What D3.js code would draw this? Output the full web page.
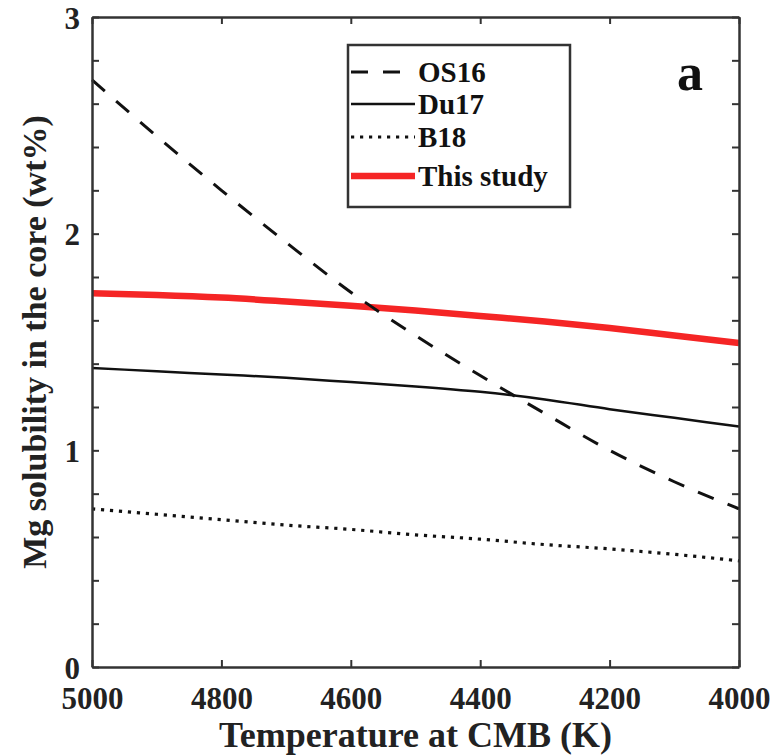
<!DOCTYPE html>
<html>
<head>
<meta charset="utf-8">
<script src="https://cdn.jsdelivr.net/npm/d3@7"></script>
<style>
    body { margin: 0; background: #fff; }
    #chart-area { width: 775px; height: 755px; }
    .axis path, .axis line { stroke: #333; }
    text { font-family: "Liberation Serif", "Times New Roman", Tinos, serif; font-weight: bold; }
    .axis text { fill: #222; }
</style>
</head>
<body>
<div id="chart-area"></div>
<script>
// temperatures at CMB (K)
const temps = [5000, 4900, 4800, 4700, 4600, 4500, 4400, 4300, 4200, 4100, 4000];

// Mg solubility (wt%)
const os16 = [2.71, 2.45, 2.20, 1.96, 1.73, 1.53, 1.345, 1.17, 1.00, 0.855, 0.73];
const du17 = [1.38, 1.365, 1.35, 1.335, 1.315, 1.295, 1.27, 1.235, 1.19, 1.15, 1.11];
const b18 = [0.73, 0.705, 0.68, 0.655, 0.635, 0.61, 0.59, 0.565, 0.545, 0.52, 0.49];
const thisStudy = [1.725, 1.717, 1.705, 1.687, 1.667, 1.645, 1.62, 1.595, 1.565, 1.53, 1.495];

const xTicks = [5000, 4800, 4600, 4400, 4200, 4000];
const yTicks = [0, 0.2, 0.4, 0.6, 0.8, 1, 1.2, 1.4, 1.6, 1.8, 2, 2.2, 2.4, 2.6, 2.8, 3];

const seriesNames = ["OS16", "Du17", "B18", "This study"];

let margin = {top: 17, right: 36, bottom: 88, left: 92};
let width = 775 - margin.left - margin.right;
let height = 755 - margin.top - margin.bottom;

let svg = d3.select("#chart-area").append("svg")
    .attr("width", 775)
    .attr("height", 755)
    .append("g")
    .attr("transform", "translate(" + margin.left + "," + margin.top + ")");

// scales (x runs from hot to cold)
let xScale = d3.scaleLinear().domain([5000, 4000]).range([0, width]);
let yScale = d3.scaleLinear().domain([0, 3]).range([height, 0]);

// line styles
let styles = {
    "OS16": {data: os16, color: "#111", width: 3, dash: "17,15"},
    "Du17": {data: du17, color: "#111", width: 2.5, dash: null},
    "B18": {data: b18, color: "#111", width: 3.2, dash: "3.2,5.8"},
    "This study": {data: thisStudy, color: "#f52525", width: 6.5, dash: null}
};

let line = d3.line()
    .curve(d3.curveMonotoneX)
    .x(d => xScale(d.t))
    .y(d => yScale(d.v));

// draw series (red first so the dashed line sits over it)
["This study", "Du17", "B18", "OS16"].forEach(name => {
    let s = styles[name];
    let pts = temps.map((t, i) => ({t: t, v: s.data[i]}));
    svg.append("path")
        .datum(pts)
        .attr("fill", "none")
        .attr("stroke", s.color)
        .attr("stroke-width", s.width)
        .attr("stroke-dasharray", s.dash)
        .attr("d", line);
});

// axes, ticks pointing inward
svg.append("g")
    .attr("class", "axis axis-x")
    .attr("transform", "translate(0," + height + ")")
    .call(d3.axisBottom(xScale).tickValues(xTicks).tickSizeInner(-7).tickSizeOuter(0).tickPadding(20).tickFormat(d3.format("d")))
    .call(g => g.attr("font-family", null))
    .call(g => g.selectAll("text").style("font-size", "31px"));

svg.append("g")
    .attr("class", "axis axis-y")
    .call(d3.axisLeft(yScale).tickValues(yTicks).tickSizeInner(-7).tickSizeOuter(0).tickPadding(12)
        .tickFormat(d => Number.isInteger(d) ? d : ""))
    .call(g => g.attr("font-family", null))
    .call(g => g.selectAll("text").style("font-size", "31px").attr("dy", "0.36em"));

svg.append("g")
    .attr("class", "axis axis-top")
    .call(d3.axisTop(xScale).tickValues(xTicks).tickSizeInner(-7).tickSizeOuter(0).tickFormat(""));

svg.append("g")
    .attr("class", "axis axis-right")
    .attr("transform", "translate(" + width + ",0)")
    .call(d3.axisRight(yScale).tickValues(yTicks).tickSizeInner(-7).tickSizeOuter(0).tickFormat(""));

svg.selectAll(".axis path").attr("stroke-width", 2.5);
svg.selectAll(".axis line").attr("stroke-width", 2);

// axis labels
svg.append("text")
    .attr("x", width / 2)
    .attr("y", height + 80)
    .attr("text-anchor", "middle")
    .style("font-size", "36px")
    .style("fill", "#222")
    .text("Temperature at CMB (K)");

svg.append("text")
    .attr("transform", "rotate(-90)")
    .attr("x", -height / 2)
    .attr("y", -46)
    .attr("text-anchor", "middle")
    .style("font-size", "34px")
    .style("fill", "#222")
    .text("Mg solubility in the core (wt%)");

// panel letter
svg.append("text")
    .attr("x", 598)
    .attr("y", 73)
    .attr("text-anchor", "middle")
    .style("font-size", "52px")
    .style("fill", "#111")
    .text("a");

// legend
let legend = svg.append("g")
    .attr("transform", "translate(256,28)");

legend.append("rect")
    .attr("width", 222)
    .attr("height", 162)
    .attr("fill", "#fff")
    .attr("stroke", "#333")
    .attr("stroke-width", 2.5);

let legendY = [27, 59, 92, 131];

seriesNames.forEach((name, i) => {
    let s = styles[name];
    legend.append("line")
        .attr("x1", 3)
        .attr("x2", 67)
        .attr("y1", legendY[i])
        .attr("y2", legendY[i])
        .attr("stroke", s.color)
        .attr("stroke-width", s.width)
        .attr("stroke-dasharray", s.dash);
    legend.append("text")
        .attr("x", 70)
        .attr("y", legendY[i])
        .attr("dy", "0.33em")
        .style("font-size", "29px")
        .style("fill", "#111")
        .text(name);
});
</script>
</body>
</html>
